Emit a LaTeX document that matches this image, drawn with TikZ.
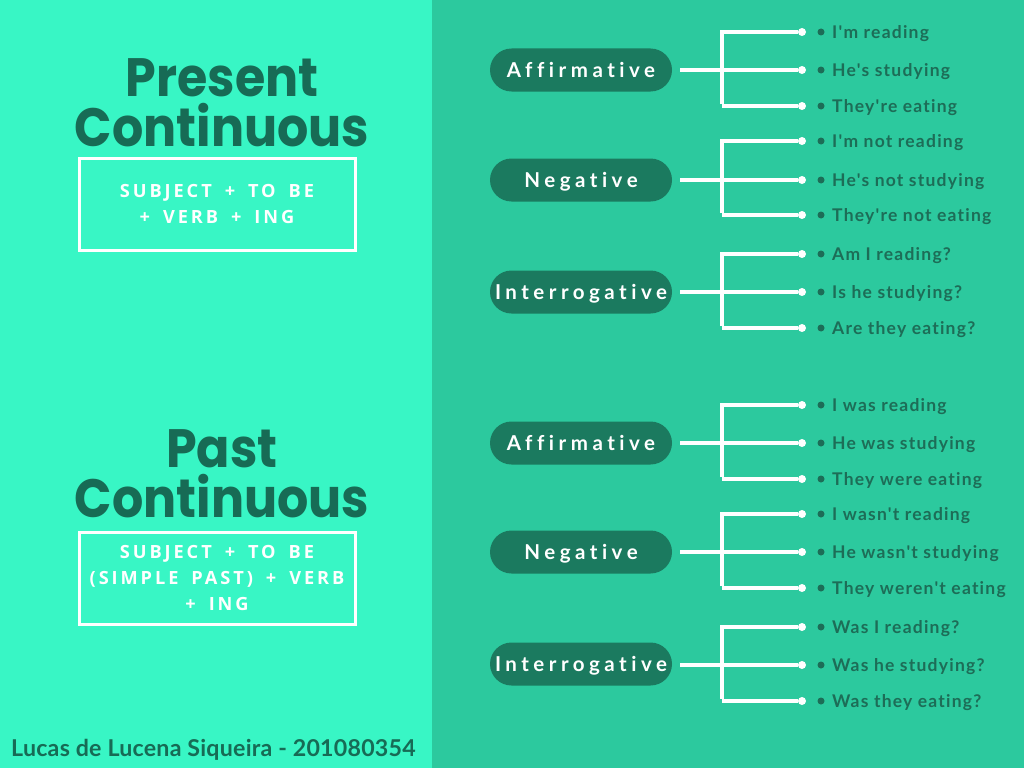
\documentclass[tikz,border=0pt]{standalone}
\usepackage{fontspec}
\setmainfont{Lato}
\newfontfamily\titlefont{Poppins}[FakeStretch=0.91]
\newfontfamily\boxfont{Open Sans}[LetterSpace=16, WordSpace=1.7, Ligatures=NoCommon]
\newfontfamily\pillfont{Lato}[LetterSpace=22, Ligatures={NoCommon,NoContextual}]
\newfontfamily\itemfont{Lato}[LetterSpace=7, Ligatures={NoCommon,NoContextual}]
\newfontfamily\authorfont{Lato}[LetterSpace=1, Ligatures=NoCommon]
\definecolor{leftbg}{HTML}{38F6C5}
\definecolor{rightbg}{HTML}{2CC99E}
\definecolor{darkg}{HTML}{176B55}
\definecolor{pillg}{HTML}{1B7A5F}
\definecolor{itemg}{HTML}{1D6D57}
\tikzset{
  title/.style={anchor=base, inner sep=0pt, text=darkg, font=\titlefont\bfseries\fontsize{54}{54}\selectfont},
  formula/.style={draw=white, line width=3pt, minimum width=276pt, minimum height=92pt, inner sep=0pt,
    align=center, text=white, font=\boxfont\bfseries\fontsize{18.2}{26}\selectfont},
  pill/.style={fill=pillg, rounded corners=21.5pt, minimum width=182pt, minimum height=43pt, inner sep=0pt,
    text=white, text height=14.5pt, text depth=0pt, font=\pillfont\bfseries\fontsize{20.5}{24}\selectfont},
  endpt/.style={circle, fill=white, inner sep=0pt, minimum size=8pt},
  conn/.style={draw=white, line width=3.5pt},
  item/.style={anchor=base west, inner sep=0pt, text=itemg, font=\itemfont\bfseries\fontsize{17.5}{20}\selectfont},
  bullet/.style={fill=itemg},
}
\newcommand\grp[9]{%
  \node[pill] (#1) at (581,#3) {#2};
  \node[endpt] (#1a) at (802,#4) {};
  \node[endpt] (#1b) at (802,#5) {};
  \node[endpt] (#1c) at (802,#6) {};
  \coordinate (#1j) at (722,#5);
  \draw[conn] ([xshift=8pt]#1.east |- #1b) -- (#1b);
  \draw[conn] (#1a) -- (#1a -| #1j) -- ([yshift=-4pt]#1a -| #1j) -- ([yshift=2pt]#1c -| #1j);
  \draw[conn] (#1c -| #1j) -- (#1c);
  \fill[bullet] (821,#4) circle (3.5pt);
  \fill[bullet] (821,#5) circle (3.5pt);
  \fill[bullet] (821,#6) circle (3.5pt);
  \node[item] (#1ta) at (832,#4+6) {#7};
  \node[item] (#1tb) at (832,#5+6) {#8};
  \node[item] (#1tc) at (832,#6+6) {#9};
}
\begin{document}
\begin{tikzpicture}[x=1pt,y=-1pt]
\useasboundingbox (0,0) rectangle (1024,768);
\fill[leftbg] (0,0) rectangle (432,768);
\fill[rightbg] (432,0) rectangle (1024,768);

\node[title] (t1a) at (222,96) {Present};
\node[title] (t1b) at (222,146) {Continuous};
\node[formula] (f1) at (217,204) {SUBJECT + TO BE\\+ VERB + ING};

\node[title] (t2a) at (222,467) {Past};
\node[title] (t2b) at (222,517) {Continuous};
\node[formula] (f2) at (217,578) {SUBJECT + TO BE\\(SIMPLE PAST) + VERB\\+ ING};

\node[anchor=base west, inner sep=0pt, text=darkg, font=\authorfont\bfseries\fontsize{23.2}{26}\selectfont] (author) at (11,756) {Lucas de Lucena Siqueira - 201080354};

\grp{pa}{Affirmative}{70}{32}{70}{106}{I'm reading}{He's studying}{They're eating}
\grp{pn}{Negative}{180}{141}{180}{215}{I'm not reading}{He's not studying}{They're not eating}
\grp{pi}{Interrogative}{292}{254}{292}{328}{Am I reading?}{Is he studying?}{Are they eating?}
\grp{sa}{Affirmative}{443}{405}{443}{479}{I was reading}{He was studying}{They were eating}
\grp{sn}{Negative}{552}{514}{552}{588}{I wasn't reading}{He wasn't studying}{They weren't eating}
\grp{si}{Interrogative}{664}{627}{665}{701}{Was I reading?}{Was he studying?}{Was they eating?}
\end{tikzpicture}
\end{document}
